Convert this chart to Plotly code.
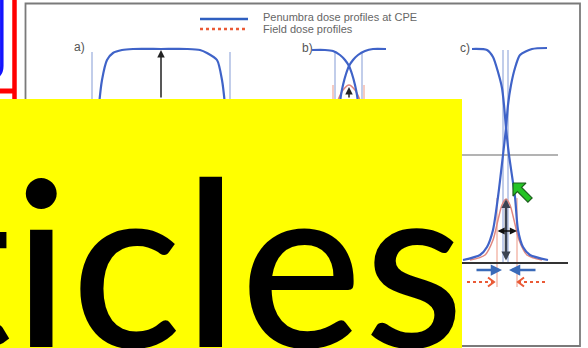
import plotly.graph_objects as go

W, H = 588, 348

# ---------------- data (pixel space) ----------------
# panel a) broad penumbra profile
a_x = [97, 99, 102, 107, 113, 122, 133, 161, 187, 200, 207, 217, 222, 225, 227]
a_y = [130, 105, 80, 60, 53, 50, 49, 49, 49, 50, 53, 60, 80, 105, 130]

# panel b) two crossing penumbra profiles
b_left_x = [312, 325, 333, 340, 345, 349, 352, 355, 357, 359]
b_left_y = [50, 50, 51, 55, 60, 66, 74, 85, 95, 110]
b_right_x = [386, 373, 365, 358, 353, 349, 346, 343, 341, 339]
b_right_y = [49, 49, 51, 55, 60, 66, 74, 85, 95, 110]
b_field_x = [338, 343, 349, 355, 360]
b_field_y = [100, 90, 85, 90, 100]

# panel c) narrow field
c_left_x = [472, 487, 493, 498, 502, 504, 506, 509, 515, 518, 523, 530, 548]
c_left_y = [49, 50, 57, 72, 88, 105, 128, 155, 197, 230, 247, 255, 260]
c_right_x = [547, 532, 520, 515, 511, 508, 506, 503, 498, 493, 487, 480, 463]
c_right_y = [48, 49, 55, 68, 85, 105, 128, 155, 197, 230, 247, 255, 260]
c_field_x = [470, 485, 493, 498, 502, 506, 510, 514, 519, 527, 542]
c_field_y = [260, 255, 240, 220, 205, 199, 205, 220, 240, 255, 260]

# thin reference verticals (x, y_top, y_bottom)
blue_vlines = [(92, 52, 348), (230, 52, 348), (335, 52, 348), (362, 52, 348),
               (503, 50, 262), (508, 50, 262)]
red_vlines = [(333, 85, 348), (364, 85, 348), (497, 198, 287), (517, 198, 287)]

# horizontal levels in panel c
gray_level = (440, 558, 155)
base_level = (440, 568, 263)

# green pointer polygon
green_x = [513, 526, 521.6, 532.1, 527.9, 517.4, 513, 513]
green_y = [183, 183, 187.4, 197.9, 202.1, 191.6, 196, 183]

# red dotted arrows (x_from, x_to, y)
red_arrows = [(467, 494, 282), (545, 518, 282)]
# blue arrows (x_from, x_to, y)
blue_arrows = [(475, 502, 270), (537, 509, 270)]

legend_texts = ["Penumbra dose profiles at CPE", "Field dose profiles"]
panel_labels = [("a)", 72, 47), ("b)", 300, 48), ("c)", 458, 48)]
big_text = "ticles"

BLUE = "#3f63c8"
THIN_BLUE = "#98acdc"
PINK = "#e0877f"
RED = "#ea5a36"

fig = go.Figure()


def seg_trace(segs, color, width, dash=None):
    xs, ys = [], []
    for (x0, y0, x1, y1) in segs:
        xs += [x0, x1, None]
        ys += [y0, y1, None]
    fig.add_trace(go.Scatter(x=xs, y=ys, mode="lines",
                             line=dict(color=color, width=width, dash=dash),
                             hoverinfo="skip", showlegend=False))


# thin verticals
seg_trace([(x, t, x, b) for x, t, b in blue_vlines], THIN_BLUE, 1.2)
seg_trace([(x, t, x, b) for x, t, b in red_vlines], "#f0a898", 1.2)
# levels
seg_trace([(gray_level[0], gray_level[2], gray_level[1], gray_level[2])], "#9a9a9a", 1.5)
seg_trace([(base_level[0], base_level[2], base_level[1], base_level[2])], "#333333", 2.2)

# field profiles
for fx, fy in [(b_field_x, b_field_y), (c_field_x, c_field_y)]:
    fig.add_trace(go.Scatter(x=fx, y=fy, mode="lines",
                             line=dict(color=PINK, width=1.5, shape="spline", smoothing=0.8),
                             hoverinfo="skip", showlegend=False))

# penumbra profiles
for px, py in [(a_x, a_y), (b_left_x, b_left_y), (b_right_x, b_right_y),
               (c_left_x, c_left_y), (c_right_x, c_right_y)]:
    fig.add_trace(go.Scatter(x=px, y=py, mode="lines",
                             line=dict(color=BLUE, width=2.2, shape="spline", smoothing=0.7),
                             hoverinfo="skip", showlegend=False))

# legend samples
seg_trace([(200, 19, 248, 19)], "#2f5fc0", 2.5)
seg_trace([(200, 29, 248, 29)], RED, 2.5, dash="dot")

# green pointer
fig.add_trace(go.Scatter(x=green_x, y=green_y, mode="lines", fill="toself",
                         fillcolor="#25c425", line=dict(color="#1d5e1d", width=1.2),
                         hoverinfo="skip", showlegend=False))

# red dotted arrows with open heads
for x0, x1, y in red_arrows:
    seg_trace([(x0, y, x1, y)], RED, 2, dash="dot")
    d = 1 if x1 > x0 else -1
    fig.add_trace(go.Scatter(x=[x1 - 6 * d, x1, x1 - 6 * d], y=[y - 4.5, y, y + 4.5],
                             mode="lines", line=dict(color=RED, width=2),
                             hoverinfo="skip", showlegend=False))

shapes = [
    # left logo
    dict(type="path", path="M 1.8 -2 L 1.8 66 Q 1.8 74 -4 77", line=dict(color="#1414ff", width=3.5), layer="below"),
    dict(type="line", x0=14.5, x1=14.5, y0=-2, y1=110, line=dict(color="#ff0000", width=4.5), layer="below"),
    dict(type="line", x0=-2, x1=13, y0=91, y1=91, line=dict(color="#ff0000", width=5), layer="below"),
    # figure frame
    dict(type="rect", x0=25.5, y0=3.5, x1=580, y1=346, line=dict(color="#7a7a7a", width=1.8), layer="below"),
    # yellow banner
    dict(type="rect", x0=-5, x1=462, y0=99, y1=355, fillcolor="#ffff00", line=dict(width=0), layer="above"),
]

ann = []
for i, t in enumerate(legend_texts):
    ann.append(dict(x=261, y=[17, 29][i], xref="x", yref="y", text=t, showarrow=False,
                    xanchor="left", yanchor="middle",
                    font=dict(family="Liberation Sans", size=11, color="#666666")))
for t, x, y in panel_labels:
    ann.append(dict(x=x, y=y, xref="x", yref="y", text=t, showarrow=False,
                    xanchor="left", yanchor="middle",
                    font=dict(family="Liberation Sans", size=12, color="#555555")))


def arrow(xt, yt, xf, yf, color, width, head=2, side="end", size=1.0):
    ann.append(dict(x=xt, y=yt, ax=xf, ay=yf, xref="x", yref="y", axref="x", ayref="y",
                    text="", showarrow=True, arrowhead=head, arrowside=side,
                    arrowsize=size, arrowwidth=width, arrowcolor=color))


arrow(161, 50, 161, 99, "#222222", 1.5)
arrow(349, 87, 349, 99, "#222222", 1.5)
arrow(506, 199, 506, 262, "#3b4352", 2.6, side="end+start", size=0.7)
arrow(517, 231, 496, 231, "#111111", 1.6, side="end+start", size=0.9)
for x0, x1, y in blue_arrows:
    arrow(x1, y, x0, y, "#3a6ab8", 2.5, size=0.9)

ann.append(dict(x=468 / W, y=1 - 118 / H, xref="paper", yref="paper",
                text='<span style="letter-spacing:2px">' + big_text + '</span>',
                showarrow=False, xanchor="right", yanchor="top",
                font=dict(family="Lato", size=230, color="#000000", weight=500)))

fig.update_layout(
    width=W, height=H, margin=dict(l=0, r=0, t=0, b=0),
    paper_bgcolor="white", plot_bgcolor="white",
    xaxis=dict(range=[0, W], visible=False, fixedrange=True),
    yaxis=dict(range=[H, 0], visible=False, fixedrange=True),
    shapes=shapes, annotations=ann, showlegend=False,
)

fig.write_html("out.html", config={"displayModeBar": False},
               post_script="document.body.style.margin='0';document.body.style.overflow='hidden';")
